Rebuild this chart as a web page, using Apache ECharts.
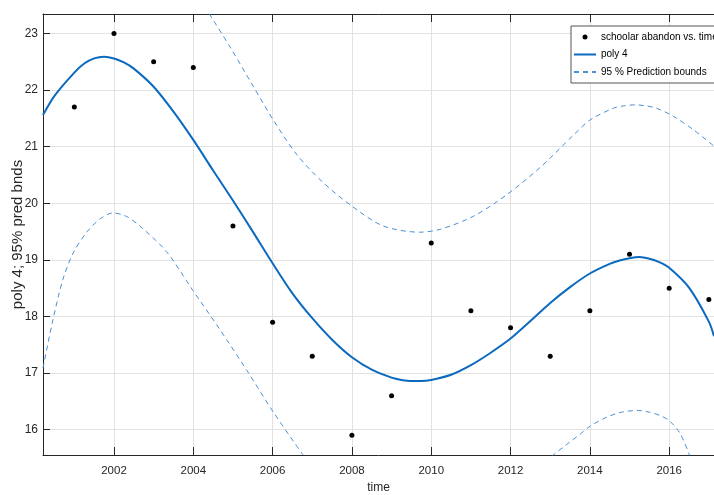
<!DOCTYPE html>
<html lang="en">
<head>
    <meta charset="UTF-8">
    <title>poly 4 fit</title>
    <script src="https://cdn.jsdelivr.net/npm/echarts@6/dist/echarts.min.js"></script>
    <style>
        html, body { margin: 0; padding: 0; background: #fff; }
        #main { width: 714px; height: 495px; }
    </style>
</head>
<body>
<div id="main"></div>
<script type="text/javascript">
    // measured points
    var years = [2001, 2002, 2003, 2004, 2005, 2006, 2007, 2008, 2009, 2010, 2011, 2012, 2013, 2014, 2015, 2016, 2017];
    var abandon = [21.7, 23.0, 22.5, 22.4, 19.6, 17.9, 17.3, 15.9, 16.6, 19.3, 18.1, 17.8, 17.3, 18.1, 19.1, 18.5, 18.3];

    // poly 4 fit
    var fitX = [2000.21, 2000.5, 2001, 2001.25, 2001.5, 2001.75, 2002, 2002.25, 2002.5, 2003, 2003.5, 2004, 2004.5, 2005, 2005.5, 2006, 2006.5, 2007, 2007.5, 2008, 2008.5, 2009, 2009.25, 2009.5, 2009.75, 2010, 2010.5, 2011, 2011.5, 2012, 2012.5, 2013, 2013.5, 2014, 2014.5, 2014.75, 2015, 2015.25, 2015.5, 2015.75, 2016, 2016.5, 2017, 2017.13];
    var fitY = [21.56, 21.90, 22.31, 22.47, 22.56, 22.59, 22.56, 22.49, 22.38, 22.06, 21.62, 21.12, 20.58, 20.05, 19.50, 18.94, 18.41, 17.97, 17.59, 17.28, 17.06, 16.92, 16.88, 16.86, 16.86, 16.88, 16.97, 17.14, 17.36, 17.61, 17.92, 18.24, 18.52, 18.76, 18.93, 18.99, 19.03, 19.05, 19.02, 18.96, 18.86, 18.51, 17.91, 17.65];

    // 95 % prediction bounds
    var upX = [2004.40, 2004.92, 2005.51, 2006.01, 2006.60, 2007.27, 2008.00, 2008.79, 2009.71, 2010.22, 2011.06, 2011.90, 2012.74, 2013.58, 2014.00, 2014.59, 2014.84, 2015.14, 2015.43, 2015.68, 2016.10, 2016.61, 2017.13];
    var upY = [23.35, 22.77, 22.07, 21.48, 20.87, 20.37, 19.95, 19.60, 19.49, 19.54, 19.77, 20.15, 20.63, 21.20, 21.47, 21.68, 21.72, 21.74, 21.72, 21.68, 21.54, 21.30, 21.01];
    var loX1 = [2000.21, 2000.46, 2000.71, 2000.97, 2001.30, 2001.64, 2001.97, 2002.31, 2002.65, 2003.32, 2003.99, 2004.67, 2005.34, 2006.01, 2006.77];
    var loY1 = [17.09, 17.94, 18.65, 19.12, 19.48, 19.72, 19.83, 19.77, 19.60, 19.15, 18.46, 17.77, 17.06, 16.32, 15.55];
    var loX2 = [2013.03, 2013.75, 2014.00, 2014.42, 2014.80, 2015.22, 2015.50, 2015.77, 2016.00, 2016.27, 2016.52];
    var loY2 = [15.53, 15.92, 16.06, 16.22, 16.31, 16.34, 16.31, 16.25, 16.16, 15.94, 15.54];

    var xMin = 2000.21, xMax = 2017.13;
    var yMin = 15.553, yMax = 23.345;

    function pairs(xs, ys) {
        return xs.map(function (x, i) { return [x, ys[i]]; });
    }

    var font = '"Liberation Sans", Arial, sans-serif';
    var ink = '#262626';
    var boundName = '95 % Prediction bounds';
    var fitColor = '#0b6abf';
    var dashStyle = { color: '#4a8fd4', width: 1, type: [5, 4] };
    var noDot = { color: 'rgba(0,0,0,0)', opacity: 0, borderWidth: 0 };

    var chartDom = document.getElementById('main');
    var myChart = echarts.init(chartDom, null, { renderer: 'canvas' });

    var xCommon = {
        type: 'value',
        min: xMin,
        max: xMax,
        minInterval: 2,
        maxInterval: 2,
        axisLine: { show: true, lineStyle: { color: ink, width: 1 } },
        axisTick: { show: true, inside: true, length: 8, lineStyle: { color: ink } },
        splitLine: { show: false }
    };

    function boundSeries(data) {
        return {
            name: boundName,
            type: 'line',
            smooth: 0.3,
            showSymbol: false,
            symbol: 'none',
            lineStyle: dashStyle,
            itemStyle: { color: dashStyle.color },
            data: data
        };
    }

    var option = {
        animation: false,
        textStyle: { fontFamily: font },
        grid: { left: 43, right: 0, top: 14, bottom: 40, containLabel: false, outerBoundsMode: 'none' },
        legend: {
            orient: 'vertical',
            left: 571,
            top: 26,
            padding: [5, 12, 5, 2],
            itemWidth: 22,
            itemHeight: 5,
            itemGap: 5.5,
            backgroundColor: '#fff',
            borderColor: '#555',
            borderWidth: 1,
            borderRadius: 0,
            textStyle: { fontSize: 10, color: '#000', fontFamily: font, lineHeight: 12 },
            data: [
                { name: 'schoolar abandon vs. time', icon: 'circle', itemStyle: { color: '#000', opacity: 1 } },
                { name: 'poly 4', itemStyle: noDot },
                { name: boundName, itemStyle: noDot }
            ]
        },
        xAxis: [
            Object.assign({}, xCommon, {
                position: 'bottom',
                name: 'time',
                nameLocation: 'middle',
                nameGap: 27,
                nameTextStyle: { fontSize: 12, color: ink, fontFamily: font },
                axisLabel: {
                    show: true, color: ink, fontSize: 11.5, margin: 10, fontFamily: font,
                    showMinLabel: false, showMaxLabel: false,
                    formatter: function (v) { return (Math.abs(v - Math.round(v)) < 1e-6 && Math.round(v) % 2 === 0) ? String(Math.round(v)) : ''; }
                },
                splitLine: { show: true, lineStyle: { color: '#e2e2e2', width: 1 } }
            }),
            Object.assign({}, xCommon, {
                position: 'top',
                axisLabel: { show: false }
            })
        ],
        yAxis: {
            type: 'value',
            min: yMin,
            max: yMax,
            minInterval: 1,
            maxInterval: 1,
            name: 'poly 4; 95% pred bnds',
            nameLocation: 'middle',
            nameGap: 18,
            nameMoveOverlap: false,
            nameTextStyle: { fontSize: 15, color: ink, fontFamily: font },
            axisLine: { show: true, lineStyle: { color: ink, width: 1 } },
            axisTick: { show: true, inside: true, length: 7, lineStyle: { color: ink } },
            axisLabel: {
                color: ink, fontSize: 12, margin: 5, fontFamily: font,
                showMinLabel: false, showMaxLabel: false,
                formatter: function (v) { return Math.abs(v - Math.round(v)) < 1e-6 ? String(Math.round(v)) : ''; }
            },
            splitLine: { show: true, lineStyle: { color: '#e2e2e2', width: 1 } }
        },
        series: [
            {
                name: 'schoolar abandon vs. time',
                type: 'scatter',
                symbol: 'circle',
                symbolSize: 5,
                itemStyle: { color: '#000', opacity: 1 },
                data: pairs(years, abandon),
                z: 5
            },
            {
                name: 'poly 4',
                type: 'line',
                smooth: 0.3,
                showSymbol: false,
                symbol: 'none',
                lineStyle: { color: fitColor, width: 2 },
                itemStyle: { color: fitColor },
                data: pairs(fitX, fitY),
                z: 4
            },
            boundSeries(pairs(upX, upY)),
            boundSeries(pairs(loX1, loY1)),
            boundSeries(pairs(loX2, loY2))
        ]
    };

    option && myChart.setOption(option);
</script>
</body>
</html>
